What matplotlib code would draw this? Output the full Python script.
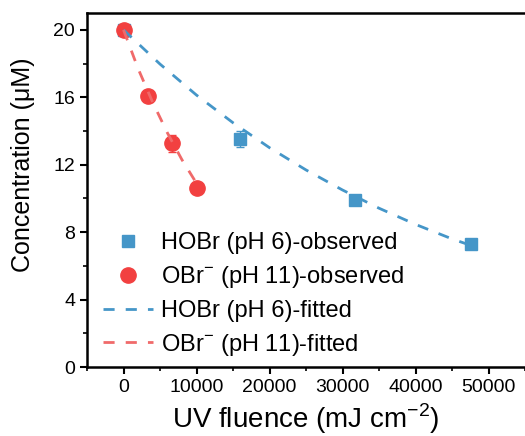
import matplotlib.pyplot as plt
from matplotlib.ticker import MultipleLocator

plt.rcParams['font.family'] = ['Liberation Sans', 'DejaVu Sans']
plt.rcParams['mathtext.fontset'] = 'custom'
plt.rcParams['mathtext.rm'] = 'Liberation Sans'

# observed data
hobr_x = [0, 16000, 31700, 47600]
hobr_y = [20.0, 13.55, 9.9, 7.32]
hobr_err = [0.1, 0.47, 0.12, 0.1]

obr_x = [0, 3300, 6700, 10000]
obr_y = [20.0, 16.05, 13.28, 10.63]
obr_err = [0.1, 0.15, 0.5, 0.1]

# fitted curves
hobr_fit_x = [0, 5000, 10000, 15000, 20000, 25000, 30000, 35000, 40000, 45000, 47600]
hobr_fit_y = [20.0, 17.97, 16.13, 14.49, 13.01, 11.69, 10.50, 9.42, 8.46, 7.60, 7.21]

obr_fit_x = [0, 2000, 4000, 6000, 8000, 10000]
obr_fit_y = [20.0, 17.7, 15.7, 13.9, 12.3, 10.9]

blue = '#4596c8'
red = '#f24040'
red_line = '#f06a6a'

fig = plt.figure(figsize=(5.25, 4.36), dpi=100)
ax = fig.add_axes([87/525, 69/436, 438/525, 354/436])

# error bars
ax.errorbar(hobr_x, hobr_y, yerr=hobr_err, fmt='none', ecolor=blue,
            capsize=3, elinewidth=1, zorder=2)
ax.errorbar(obr_x, obr_y, yerr=obr_err, fmt='none', ecolor=red,
            capsize=3, elinewidth=1, zorder=2)

h1, = ax.plot(hobr_x, hobr_y, 's', color=blue, ms=9, zorder=3,
              label='HOBr (pH 6)-observed')
h2, = ax.plot(obr_x, obr_y, 'o', color=red, ms=11, zorder=3,
              label='OBr$^{-}$ (pH 11)-observed')
h3, = ax.plot(hobr_fit_x, hobr_fit_y, color=blue, lw=2, dashes=(4, 4),
              label='HOBr (pH 6)-fitted', zorder=4)
h4, = ax.plot(obr_fit_x, obr_fit_y, color=red_line, lw=2, dashes=(4, 4),
              label='OBr$^{-}$ (pH 11)-fitted', zorder=4)

ax.set_xlim(-5000, 55000)
ax.set_ylim(0, 21)
ax.xaxis.set_major_locator(MultipleLocator(10000))
ax.xaxis.set_minor_locator(MultipleLocator(5000))
ax.yaxis.set_major_locator(MultipleLocator(4))
ax.yaxis.set_minor_locator(MultipleLocator(2))
ax.tick_params(which='major', direction='out', length=5, width=1.5, labelsize=14)
ax.tick_params(which='minor', direction='out', length=3, width=1.2)
for s in ['left', 'bottom', 'top']:
    ax.spines[s].set_linewidth(1.8)
ax.spines['right'].set_visible(False)

ax.set_xlabel('UV fluence (mJ cm$^{-2}$)', fontsize=20, labelpad=4)
ax.set_ylabel('Concentration (μM)', fontsize=18)
ax.yaxis.set_label_coords(-0.118, 0.57)

ax.legend(handles=[h1, h2, h3, h4], loc='upper left',
          bbox_to_anchor=(103/525, 1 - 232/436), bbox_transform=fig.transFigure,
          frameon=False, fontsize=17, handlelength=2.1, handletextpad=0.35,
          labelspacing=0.42, borderpad=0, borderaxespad=0)

fig.savefig('out.png', dpi=100)
